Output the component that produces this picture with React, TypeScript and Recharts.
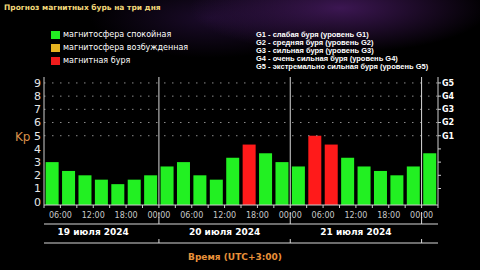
import { ComposedChart, Bar, Line, XAxis, YAxis, ReferenceLine, Cell } from "recharts"

// start hour of each 3-hour slot, counted from 19 July 00:00 (UTC+3)
const slotStart = [3, 6, 9, 12, 15, 18, 21, 24, 27, 30, 33, 36, 39, 42, 45, 48, 51, 54, 57, 60, 63, 66, 69, 72]
const kp = [3, 2.33, 2, 1.67, 1.33, 1.67, 2, 2.67, 3, 2, 1.67, 3.33, 4.33, 3.67, 3, 2.67, 5, 4.33, 3.33, 2.67, 2.33, 2, 2.67, 3.67]

const timeTicks = [6, 12, 18, 24, 30, 36, 42, 48, 54, 60, 66, 72]
const timeLabels = ["06:00", "12:00", "18:00", "00:00", "06:00", "12:00", "18:00", "00:00", "06:00", "12:00", "18:00", "00:00"]
const slotTicks = [3, 6, 9, 12, 15, 18, 21, 24, 27, 30, 33, 36, 39, 42, 45, 48, 51, 54, 57, 60, 63, 66, 69, 72, 75]
const dayBounds = [24, 48, 72]
const dayCenters = [12, 36, 60]
const dayLabels = ["19 июля 2024", "20 июля 2024", "21 июля 2024"]
const kpTicks = [0, 1, 2, 3, 4, 5, 6, 7, 8, 9]
const gLevels = [5, 6, 7, 8, 9]
const gLabels = ["G1", "G2", "G3", "G4", "G5"]

const legend = [
  { color: "#22ee22", text: "магнитосфера спокойная" },
  { color: "#e6b420", text: "магнитосфера возбужденная" },
  { color: "#f01c1c", text: "магнитная буря" },
]
const gLegend = [
  "G1 - слабая буря (уровень G1)",
  "G2 - средняя буря (уровень G2)",
  "G3 - сильная буря (уровень G3)",
  "G4 - очень сильная буря (уровень G4)",
  "G5 - экстремально сильная буря (уровень G5)",
]

const data = slotStart.map((h, i) => ({ mid: h + 1.5, kp: kp[i] }))
const domainX: [number, number] = [3, 75]
const font = "DejaVu Sans, Verdana, sans-serif"
// axis ids sorted in the order the rows are stacked under the plot
const timeAxes = ["a0top", "a1time", "a2dates", "a3foot"]

// bars reach down to the bottom border of the plot, like the original
const KpBar = (props: any) => {
  const { x, y, width, height, fill, background } = props
  const bottom = background ? background.y + background.height : y + height
  return <rect x={x} y={y} width={width} height={Math.max(0, bottom - y)} fill={fill} />
}

const TimeTick = (props: any) => {
  const { x, y, payload } = props
  const i = timeTicks.indexOf(payload.value)
  if (i < 0) return null
  return (
    <text x={x} y={y} dy="0.71em" textAnchor="middle" fill="#c8c8c8" fontSize={8} fontFamily={font}>
      {timeLabels[i]}
    </text>
  )
}

const DateTick = (props: any) => {
  const { x, y, payload } = props
  const i = dayCenters.indexOf(payload.value)
  if (i >= 0) {
    return (
      <text x={x} y={y + 5} dy="0.71em" textAnchor="middle" fill="#fff" fontSize={9} fontWeight="bold" fontFamily={font}>
        {dayLabels[i]}
      </text>
    )
  }
  return <line x1={x} x2={x} y1={y - 12} y2={y} stroke="#d8d8d8" />
}

const BoundTick = (props: any) => {
  const { x, y } = props
  return <line x1={x} x2={x} y1={y - 4} y2={y} stroke="#d8d8d8" />
}

export default function App() {
  return (
    <div
      style={{
        position: "fixed",
        left: 0,
        top: 0,
        width: 480,
        height: 270,
        overflow: "hidden",
        fontFamily: font,
        background:
          "radial-gradient(ellipse 150px 45px at 340px 8px, rgba(80,30,110,0.75), rgba(0,0,0,0)), radial-gradient(ellipse 120px 40px at 210px 18px, rgba(45,18,70,0.6), rgba(0,0,0,0)), #000",
      }}
    >
      <div style={{ position: "absolute", left: 4, top: 3, color: "#f2d97a", fontSize: 7.5, fontWeight: "bold" }}>
        Прогноз магнитных бурь на три дня
      </div>
      {legend.map((l, i) => (
        <div key={l.text} style={{ position: "absolute", left: 51, top: 30 + i * 13, display: "flex", alignItems: "center" }}>
          <span style={{ width: 9, height: 8, background: l.color, display: "inline-block", marginRight: 3 }} />
          <span style={{ color: "#fff", fontSize: 8 }}>{l.text}</span>
        </div>
      ))}
      {gLegend.map((t, i) => (
        <div
          key={t}
          style={{
            position: "absolute",
            left: 256,
            top: 31 + i * 8,
            color: "#fff",
            fontSize: 7.5,
            fontWeight: "bold",
            fontFamily: "Liberation Sans, Arial, sans-serif",
            lineHeight: "8px",
            whiteSpace: "nowrap",
          }}
        >
          {t}
        </div>
      ))}
      <div style={{ position: "absolute", left: 0, top: 0 }}>
        <ComposedChart width={480} height={270} data={data} margin={{ top: 77, right: 0, bottom: 0, left: 0 }} barCategoryGap="10%">
          <XAxis xAxisId="cat" dataKey="mid" type="category" hide />
          <XAxis xAxisId="a0top" dataKey="mid" orientation="top" type="number" domain={domainX} allowDataOverflow height={0} tick={false} tickLine={false} stroke="#cfcfcf" />
          <XAxis
            xAxisId="a1time"
            dataKey="mid"
            type="number"
            domain={domainX}
            allowDataOverflow
            ticks={slotTicks}
            interval={0}
            height={19}
            tickSize={3}
            tickMargin={4}
            stroke="#cfcfcf"
            tick={<TimeTick />}
          />
          <XAxis
            xAxisId="a2dates"
            dataKey="mid"
            type="number"
            domain={domainX}
            allowDataOverflow
            ticks={[...dayCenters, ...dayBounds]}
            interval={0}
            height={19}
            tickSize={0}
            tickMargin={0}
            tickLine={false}
            stroke="#d8d8d8"
            tick={<DateTick />}
          />
          <XAxis
            xAxisId="a3foot"
            dataKey="mid"
            type="number"
            domain={domainX}
            allowDataOverflow
            ticks={dayBounds}
            interval={0}
            height={27}
            tickSize={0}
            tickMargin={0}
            tickLine={false}
            stroke="#d8d8d8"
            tick={<BoundTick />}
            label={{ value: "Время (UTC+3:00)", position: "insideBottom", offset: 10, dx: -6, fill: "#e8913a", fontSize: 9, fontWeight: "bold", fontFamily: font }}
          />
          <YAxis
            yAxisId="left"
            type="number"
            domain={[-0.25, 9.45]}
            allowDataOverflow
            ticks={kpTicks}
            interval={0}
            width={44}
            tickLine={false}
            tickSize={0}
            tickMargin={3}
            stroke="#cfcfcf"
            tick={{ fill: "#e6e6e6", fontSize: 11, fontFamily: font }}
            label={{ value: "Kp", position: "insideLeft", offset: 15, dy: -4, fill: "#d9904a", fontSize: 12, fontFamily: font }}
          />
          <YAxis
            yAxisId="right"
            orientation="right"
            type="number"
            domain={[-0.25, 9.45]}
            allowDataOverflow
            ticks={kpTicks.slice(1)}
            interval={0}
            width={42}
            tickSize={3}
            tickMargin={1}
            stroke="#cfcfcf"
            tickFormatter={(v: number) => (v >= 5 ? gLabels[v - 5] : "")}
            tick={{ fill: "#fff", fontSize: 8, fontWeight: "bold", fontFamily: font }}
          />
          {gLevels.map((v) => (
            <ReferenceLine key={v} yAxisId="left" xAxisId="a1time" y={v} stroke="#8c8c8c" strokeDasharray="1.5 6.5" />
          ))}
          {dayBounds.map((d) => (
            <ReferenceLine key={d} xAxisId="a1time" yAxisId="left" x={d} stroke="#d8d8d8" />
          ))}
          {/* invisible series so every time axis gets its scale */}
          {timeAxes.map((id) => (
            <Line key={id} xAxisId={id} yAxisId="left" dataKey="kp" stroke="none" dot={false} activeDot={false} legendType="none" isAnimationActive={false} />
          ))}
          <Bar xAxisId="cat" yAxisId="left" dataKey="kp" isAnimationActive={false} shape={<KpBar />}>
            {data.map((d, i) => (
              <Cell key={i} fill={d.kp >= 4 ? "#ff1a1a" : "#22f022"} />
            ))}
          </Bar>
        </ComposedChart>
      </div>
    </div>
  )
}
